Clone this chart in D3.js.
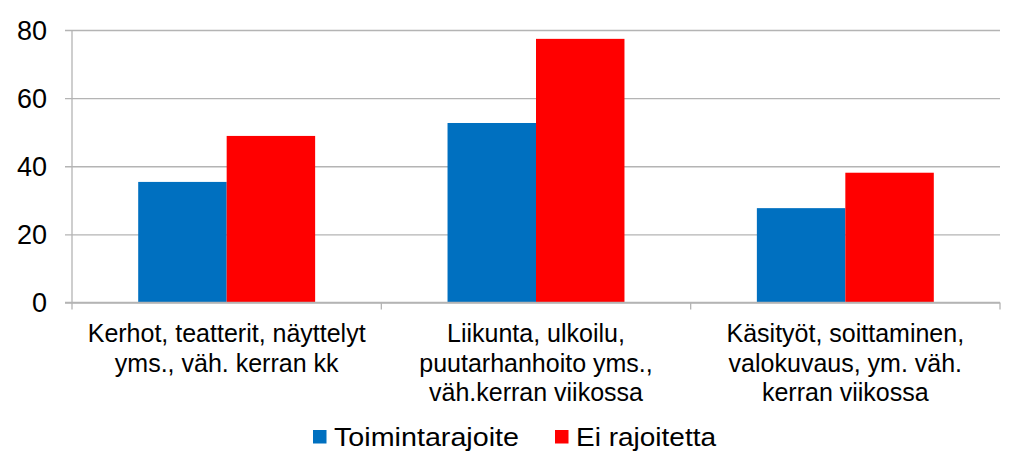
<!DOCTYPE html>
<html>
<head>
<meta charset="utf-8">
<script src="https://cdn.jsdelivr.net/npm/d3@7"></script>
<style>
  html, body { margin: 0; padding: 0; background: #fff; }
  svg text { font-family: "Liberation Sans", Arial, sans-serif; fill: #000; }
</style>
</head>
<body>
<svg id="chart" width="1024" height="473"></svg>
<script>
const categories = [
  ["Kerhot, teatterit, näyttelyt", "yms., väh. kerran kk"],
  ["Liikunta, ulkoilu,", "puutarhanhoito yms.,", "väh.kerran viikossa"],
  ["Käsityöt, soittaminen,", "valokuvaus, ym. väh.", "kerran viikossa"]
];
const seriesNames = ["Toimintarajoite", "Ei rajoitetta"];
const toimintarajoite = [35.4, 52.7, 27.7];
const eiRajoitetta = [48.9, 77.4, 38.1];
const yTicks = [0, 20, 40, 60, 80];
const colors = ["#0070C0", "#FF0000"];

(function () {
const svg = d3.select("#chart");
const mLeft = 72, mRight = 1000, mTop = 30, mBottom = 302.5;
const fontSize = 25;

const idx = d3.range(categories.length);
const x0 = d3.scaleBand().domain(idx).range([mLeft, mRight]).paddingInner(0.428).paddingOuter(0.214);
const x1 = d3.scaleBand().domain([0, 1]).range([0, x0.bandwidth()]);
const y = d3.scaleLinear().domain([0, 80]).range([mBottom, mTop]);

// gridlines
const yAxis = d3.axisLeft(y).tickValues(yTicks).tickSize(-(mRight - mLeft)).tickPadding(25).tickFormat(d3.format("d"));
const gy = svg.append("g").attr("transform", `translate(${mLeft},0)`).call(yAxis);
gy.select(".domain").remove();
gy.selectAll(".tick line").attr("stroke", "#B4B4B4").attr("stroke-width", 1.3).attr("x1", -7);
gy.selectAll(".tick text").attr("font-size", 27).attr("font-family", "Liberation Sans, Arial, sans-serif").attr("fill", "#000").attr("dy", "0.35em");

// left axis line
svg.append("line").attr("x1", mLeft).attr("x2", mLeft).attr("y1", mTop).attr("y2", mBottom + 7)
  .attr("stroke", "#B4B4B4").attr("stroke-width", 1.3);

// category ticks
const boundaries = idx.map(i => x0(i) - x0.step() * x0.paddingInner() / 2).concat([mRight]);
svg.selectAll(".ctick").data(boundaries.slice(1)).join("line")
  .attr("x1", d => d).attr("x2", d => d).attr("y1", mBottom).attr("y2", mBottom + 7)
  .attr("stroke", "#B4B4B4").attr("stroke-width", 1.3);

// bars
const series = [toimintarajoite, eiRajoitetta];
series.forEach((vals, s) => {
  svg.append("g").selectAll("rect").data(vals).join("rect")
    .attr("x", (d, i) => x0(i) + x1(s))
    .attr("width", x1.bandwidth())
    .attr("y", d => y(d))
    .attr("height", d => y(0) - y(d))
    .attr("fill", colors[s]);
});

// redraw baseline over bars
svg.append("line").attr("x1", mLeft - 7).attr("x2", mRight).attr("y1", mBottom).attr("y2", mBottom)
  .attr("stroke", "#B4B4B4").attr("stroke-width", 1.3);

// category labels
categories.forEach((lines, i) => {
  const cx = x0(i) + x0.bandwidth() / 2;
  const t = svg.append("text").attr("text-anchor", "middle").attr("font-size", fontSize);
  lines.forEach((ln, k) => {
    t.append("tspan").attr("x", cx).attr("y", 342 + k * 29.5).text(ln);
  });
});

// legend
const lg = svg.append("g");
const legendX = [313, 555];
const legendW = [185, 140];
seriesNames.forEach((name, s) => {
  lg.append("rect").attr("x", legendX[s]).attr("y", 430).attr("width", 13.5).attr("height", 13.5).attr("fill", colors[s]);
  lg.append("text").attr("x", legendX[s] + 21).attr("y", 446).attr("font-size", 25)
    .attr("textLength", legendW[s]).attr("lengthAdjust", "spacingAndGlyphs").text(name);
});
})();
</script>
</body>
</html>
